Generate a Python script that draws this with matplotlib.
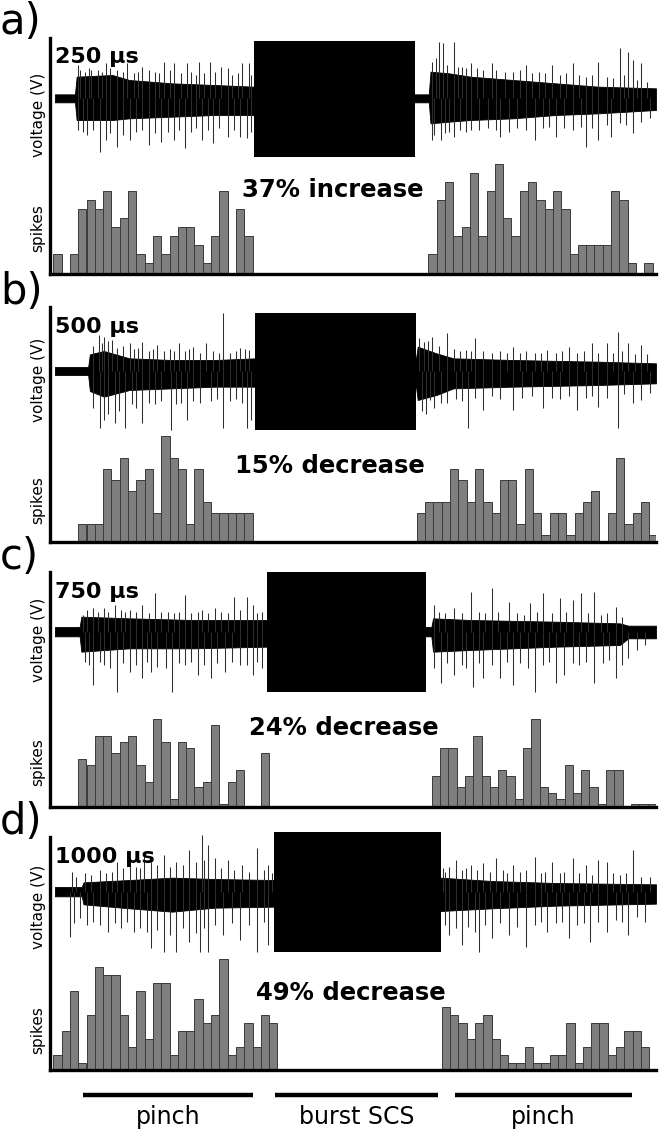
import numpy as np
import matplotlib
matplotlib.use('Agg')
import matplotlib.pyplot as plt

# ---------------- DATA ----------------
panel_names = ['a)', 'b)', 'c)', 'd)']
pulse_widths = ['250 µs', '500 µs', '750 µs', '1000 µs']
changes = ['37% increase', '15% decrease', '24% decrease', '49% decrease']
phase_labels = ['pinch', 'burst SCS', 'pinch']
phase_start = [194, 644, 1065]     # time (trace units)
phase_end = [592, 1025, 1479]

# spike histograms (counts per bin); first bin index of each block
a_left_start, a_right_start = 0, 45.2
a_left = [3, 0, 3, 8, 9, 8, 10, 6, 7, 10, 3, 2, 5, 3, 5, 6, 6, 4, 2, 5, 10, 0, 8, 5]
a_right = [3, 9, 11, 5, 6, 12, 5, 10, 13, 7, 5, 10, 11, 9, 8, 10, 8, 3, 4, 4, 4, 4, 10, 9, 2, 0, 2]
b_left_start, b_right_start = 3, 43.8
b_left = [2, 2, 2, 7, 6, 8, 5, 6, 7, 3, 10, 8, 7, 2, 7, 4, 3, 3, 3, 3, 3]
b_right = [3, 4, 4, 4, 7, 6, 4, 7, 4, 3, 6, 6, 2, 7, 3, 1, 3, 3, 1, 3, 4, 5, 0, 3, 8, 2, 3, 4, 1]
c_left_start, c_right_start = 3, 45.6
c_left = [9, 8, 13, 13, 10, 12, 13, 8, 5, 16, 12, 2, 12, 11, 4, 5, 15, 1, 5, 7, 0, 0, 10]
c_right = [6, 11, 11, 4, 6, 13, 6, 4, 7, 6, 2, 11, 16, 4, 3, 2, 8, 3, 7, 4, 1, 7, 7, 0, 1, 1, 1]
d_left_start, d_right_start = 0, 46.8
d_left = [2, 5, 10, 1, 7, 13, 12, 12, 7, 3, 10, 4, 11, 11, 2, 5, 5, 9, 6, 7, 14, 2, 3, 6, 3, 7, 6]
d_right = [8, 7, 6, 4, 6, 7, 4, 2, 1, 1, 3, 1, 1, 2, 2, 6, 1, 3, 6, 6, 2, 3, 5, 5, 3]

# voltage traces: noise envelope (time, upper, lower), stimulation block, spikes
a_env_t = [125, 172, 176, 260, 300, 400, 500, 593, 970, 1002, 1006, 1050, 1100, 1200, 1300, 1400, 1535]
a_env_hi = [12, 12, 65, 70, 55, 45, 40, 35, 12, 12, 80, 75, 65, 55, 45, 35, 30]
a_env_lo = [-12, -12, -65, -65, -60, -55, -50, -50, -12, -12, -75, -70, -65, -60, -50, -45, -35]
a_blk_t = [593, 970]; a_blk_hi = 172; a_blk_lo = -175
a_up_t = [178, 210, 245, 295, 330, 380, 405, 435, 462, 488, 515, 530, 565, 580,
          1025, 1035, 1060, 1080, 1100, 1150, 1230, 1290, 1340, 1400, 1450, 1470, 1480, 1500,
          185, 195, 205, 225, 235, 255, 270, 285, 310, 320, 345, 360, 370, 395, 420, 445, 455,
          475, 500, 540, 555, 585,
          1010, 1020, 1045, 1070, 1090, 1115, 1130, 1160, 1180, 1200, 1215, 1245, 1260, 1275,
          1310, 1325, 1355, 1370, 1385, 1420, 1435, 1460, 1490, 1515]
a_up_v = [100, 85, 105, 105, 95, 110, 105, 105, 110, 110, 95, 90, 105, 105,
          170, 165, 170, 95, 105, 105, 100, 100, 105, 110, 150, 140, 115, 105,
          85, 80, 90, 85, 80, 90, 85, 80, 75, 80, 85, 80, 75, 85, 75, 80, 70,
          75, 80, 70, 75, 70,
          110, 120, 100, 95, 90, 90, 85, 85, 80, 80, 85, 75, 80, 75,
          70, 75, 70, 65, 70, 65, 60, 70, 55, 50]
a_dn_t = [180, 230, 245, 270, 300, 345, 375, 405, 430, 470, 495, 530, 560, 575,
          1010, 1030, 1060, 1100, 1170, 1250, 1300, 1370, 1400, 1430, 1480,
          190, 200, 215, 255, 285, 315, 330, 360, 390, 415, 445, 455, 485, 510, 545, 585,
          1015, 1040, 1050, 1075, 1090, 1120, 1140, 1160, 1190, 1210, 1230, 1270, 1285, 1320,
          1340, 1360, 1385, 1420, 1450, 1465, 1500, 1520]
a_dn_v = [-95, -160, -125, -145, -125, -140, -130, -125, -150, -125, -135, -115, -115, -120,
          -125, -125, -115, -95, -115, -125, -115, -145, -125, -115, -105,
          -100, -110, -95, -105, -110, -100, -95, -105, -100, -95, -100, -90, -95, -90, -95, -100,
          -110, -105, -100, -95, -100, -95, -90, -95, -100, -90, -95, -90, -85, -90,
          -95, -85, -90, -80, -75, -80, -70, -60]

b_env_t = [125, 203, 207, 240, 300, 400, 500, 595, 972, 976, 1020, 1060, 1200, 1400, 1535]
b_env_hi = [12, 12, 50, 60, 38, 33, 33, 38, 38, 73, 53, 38, 33, 28, 23]
b_env_lo = [-12, -12, -60, -77, -57, -52, -47, -47, -47, -87, -72, -52, -47, -42, -37]
b_blk_t = [595, 972]; b_blk_hi = 173; b_blk_lo = -177
b_up_t = [228, 240, 260, 300, 330, 365, 415, 450, 480, 520, 560, 580,
          990, 1010, 1045, 1090, 1110, 1200, 1280, 1330, 1385, 1420, 1445, 1470, 1500,
          215, 235, 250, 270, 285, 310, 320, 345, 355, 380, 395, 405, 430, 440, 465, 495,
          510, 535, 550, 570,
          980, 1000, 1025, 1060, 1075, 1100, 1130, 1150, 1170, 1185, 1215, 1230, 1250, 1265,
          1300, 1315, 1350, 1365, 1400, 1435, 1455, 1485, 1515]
b_up_v = [108, 103, 93, 83, 88, 78, 83, 73, 83, 173, 68, 63,
          88, 103, 113, 63, 98, 73, 63, 73, 83, 83, 118, 83, 78,
          75, 85, 90, 70, 75, 65, 70, 60, 65, 60, 65, 60, 60, 65, 55, 60,
          55, 55, 60, 65,
          100, 90, 75, 65, 60, 60, 60, 55, 60, 55, 55, 60, 55, 55,
          55, 60, 55, 60, 55, 55, 60, 50, 50]
b_dn_t = [230, 240, 265, 290, 330, 398, 435, 520, 575, 585,
          1005, 1030, 1095, 1130, 1200, 1270, 1350, 1400, 1445, 1480, 1500,
          215, 250, 275, 305, 315, 345, 360, 375, 410, 420, 450, 465, 490, 505, 535, 550, 565,
          985, 995, 1015, 1045, 1065, 1080, 1110, 1150, 1170, 1220, 1245, 1290, 1310, 1330,
          1370, 1385, 1420, 1460, 1520]
b_dn_v = [-172, -147, -157, -172, -157, -177, -147, -172, -172, -147,
          -87, -97, -172, -117, -117, -112, -117, -107, -172, -97, -87,
          -110, -130, -120, -100, -110, -95, -100, -90, -100, -95, -90, -95, -90, -85, -90, -85, -95,
          -120, -130, -110, -95, -85, -90, -80, -75, -85, -80, -75, -80, -85, -75,
          -80, -75, -80, -70, -65]

c_env_t = [125, 183, 187, 300, 450, 622, 995, 1008, 1012, 1100, 1300, 1450, 1470, 1535]
c_env_hi = [14, 14, 45, 40, 35, 35, 14, 14, 40, 35, 30, 25, 18, 18]
c_env_lo = [-14, -14, -60, -50, -50, -45, -14, -14, -60, -55, -45, -40, -20, -20]
c_blk_t = [622, 995]; c_blk_hi = 180; c_blk_lo = -182
c_up_t = [190, 215, 265, 300, 330, 360, 390, 430, 470, 500, 545, 575, 590,
          1015, 1060, 1100, 1150, 1190, 1240, 1270, 1310, 1340, 1360, 1390, 1440,
          200, 225, 240, 250, 280, 290, 315, 345, 375, 405, 415, 445, 460, 485, 515, 530,
          560, 600, 610,
          1025, 1040, 1080, 1120, 1135, 1165, 1210, 1225, 1255, 1290, 1325, 1375, 1405, 1420, 1455]
c_up_v = [50, 70, 80, 65, 80, 115, 60, 110, 65, 70, 105, 105, 80,
          80, 70, 120, 130, 90, 85, 115, 100, 95, 115, 120, 75,
          65, 60, 70, 60, 65, 60, 60, 55, 60, 55, 60, 55, 60, 55, 60, 55,
          65, 55, 60,
          60, 55, 55, 60, 55, 60, 55, 50, 60, 55, 60, 55, 50, 55, 45]
c_dn_t = [215, 240, 270, 300, 330, 350, 400, 430, 460, 490, 525, 560, 590, 610,
          1030, 1060, 1105, 1130, 1170, 1200, 1250, 1300, 1320, 1390, 1440, 1470, 1510,
          195, 205, 230, 255, 285, 315, 340, 365, 385, 415, 445, 475, 505, 540, 575, 600,
          1015, 1045, 1080, 1090, 1120, 1150, 1185, 1215, 1235, 1270, 1285, 1340, 1355, 1370,
          1410, 1425, 1455, 1490]
c_dn_v = [-160, -100, -180, -120, -140, -120, -180, -100, -130, -140, -120, -100, -130, -110,
          -155, -130, -165, -140, -140, -160, -180, -155, -130, -155, -140, -80, -40,
          -90, -100, -90, -110, -95, -100, -90, -105, -110, -95, -90, -100, -95, -90, -100, -90,
          -110, -95, -100, -110, -95, -100, -90, -95, -110, -100, -90, -95, -100, -90,
          -95, -85, -100, -55]

d_env_t = [125, 188, 192, 300, 400, 500, 640, 1030, 1150, 1300, 1535]
d_env_hi = [14, 14, 28, 35, 42, 38, 35, 42, 32, 26, 22]
d_env_lo = [-14, -14, -38, -50, -60, -48, -45, -58, -50, -42, -36]
d_blk_t = [640, 1030]; d_blk_hi = 180; d_blk_lo = -182
d_up_t = [165, 195, 230, 270, 300, 335, 350, 380, 410, 440, 470, 485, 500, 530, 565, 600, 625,
          1040, 1065, 1100, 1130, 1160, 1200, 1250, 1290, 1340, 1370, 1400, 1420, 1480,
          175, 210, 245, 260, 285, 315, 325, 365, 395, 425, 455, 475, 515, 545, 580, 615, 635,
          1035, 1050, 1080, 1090, 1115, 1145, 1175, 1185, 1215, 1230, 1265, 1275, 1310, 1320,
          1355, 1385, 1435, 1450, 1465, 1500, 1520]
d_up_v = [60, 55, 65, 90, 105, 115, 90, 110, 90, 125, 170, 140, 100, 95, 80, 130, 80,
          60, 95, 80, 85, 100, 80, 105, 90, 100, 80, 95, 90, 125,
          45, 50, 55, 60, 70, 75, 70, 80, 75, 80, 90, 95, 70, 65, 60, 65, 55,
          70, 75, 65, 70, 65, 60, 65, 55, 60, 65, 55, 60, 55, 60,
          55, 50, 55, 50, 55, 45, 45]
d_dn_t = [160, 200, 250, 280, 310, 350, 380, 410, 440, 465, 485, 520, 560, 600, 625,
          1050, 1080, 1120, 1150, 1190, 1230, 1280, 1330, 1380, 1420, 1470, 1510,
          170, 185, 215, 230, 265, 295, 325, 340, 365, 395, 425, 455, 475, 500, 540, 580, 615,
          1040, 1065, 1095, 1110, 1135, 1170, 1210, 1250, 1265, 1300, 1315, 1350, 1365, 1400,
          1440, 1455, 1490]
d_dn_v = [-135, -100, -120, -110, -120, -170, -180, -180, -150, -180, -180, -130, -145, -180, -160,
          -130, -160, -180, -140, -130, -165, -120, -140, -150, -120, -130, -90,
          -95, -80, -90, -100, -95, -90, -110, -120, -115, -130, -110, -125, -110, -100, -95, -100, -90,
          -100, -110, -105, -120, -100, -95, -105, -100, -90, -95, -90, -100, -95, -90,
          -85, -90, -75]

# ---------------- LAYOUT / STYLE ----------------
W, H = 670, 1130
fig = plt.figure(figsize=(W / 100, H / 100), dpi=100)
plt.rcParams['font.family'] = ['DejaVu Sans']


def ax_px(x0, y0, x1, y1, **kw):
    return fig.add_axes([x0 / W, 1 - y1 / H, (x1 - x0) / W, (y1 - y0) / H], **kw)


def bare(ax):
    ax.set_facecolor('none')
    for s in ax.spines.values():
        s.set_visible(False)
    ax.set_xticks([])
    ax.set_yticks([])


X0, X1 = 50, 656
BIN_PX = 8.3
T0, T1 = 117, 1535   # trace time range spanned by the axes
panels = [
    dict(top=38, spine=273.7, trace_y=30, trace_base=205, hist_top=150, unit=9.0, lvl0=0.81,
         lab_y=22, pw_y=57, ch_xy=(333, 190), volt_y=115, spk_y=228,
         hist=(a_left_start, a_left, a_right_start, a_right),
         tr=(a_env_t, a_env_hi, a_env_lo, a_blk_t, a_blk_hi, a_blk_lo, a_up_t, a_up_v, a_dn_t, a_dn_v)),
    dict(top=307, spine=542.0, trace_y=300, trace_base=213, hist_top=425, unit=11.0, lvl0=0.39,
         lab_y=292, pw_y=327, ch_xy=(330, 466), volt_y=380, spk_y=500,
         hist=(b_left_start, b_left, b_right_start, b_right),
         tr=(b_env_t, b_env_hi, b_env_lo, b_blk_t, b_blk_hi, b_blk_lo, b_up_t, b_up_v, b_dn_t, b_dn_v)),
    dict(top=572, spine=806.7, trace_y=565, trace_base=200, hist_top=700, unit=17 / 3, lvl0=0.59,
         lab_y=557, pw_y=592, ch_xy=(344, 728), volt_y=640, spk_y=762,
         hist=(c_left_start, c_left, c_right_start, c_right),
         tr=(c_env_t, c_env_hi, c_env_lo, c_blk_t, c_blk_hi, c_blk_lo, c_up_t, c_up_v, c_dn_t, c_dn_v)),
    dict(top=837, spine=1070.3, trace_y=825, trace_base=200, hist_top=950, unit=8.0, lvl0=0.125,
         lab_y=822, pw_y=857, ch_xy=(351, 993), volt_y=907, spk_y=1030,
         hist=(d_left_start, d_left, d_right_start, d_right),
         tr=(d_env_t, d_env_hi, d_env_lo, d_blk_t, d_blk_hi, d_blk_lo, d_up_t, d_up_v, d_dn_t, d_dn_v)),
]

for i, p in enumerate(panels):
    # --- voltage trace ---
    tax = ax_px(X0 + 1.5, p['trace_y'], X1, p['trace_y'] + 140)
    bare(tax)
    base = p['trace_base']
    tax.set_xlim(T0, T1)
    tax.set_ylim(base - 420, base)
    env_t, env_hi, env_lo, blk_t, blk_hi, blk_lo, up_t, up_v, dn_t, dn_v = p['tr']
    tax.vlines(up_t, 0, up_v, color='#2e2e2e', lw=0.75)
    tax.vlines(dn_t, 0, dn_v, color='#2e2e2e', lw=0.75)
    tax.fill_between(env_t, env_lo, env_hi, color='black', lw=0.6)
    tax.fill_between(blk_t, [blk_lo] * 2, [blk_hi] * 2, color='black', lw=0)

    # --- spike histogram ---
    hax = ax_px(X0, p['hist_top'], X1, p['spine'])
    bare(hax)
    hx0 = -(53.3 - X0) / BIN_PX
    hax.set_xlim(hx0, hx0 + (X1 - X0) / BIN_PX)
    hax.set_ylim(p['lvl0'], p['lvl0'] + (p['spine'] - p['hist_top']) / p['unit'])
    ls, lc, rs, rc = p['hist']
    for s0, cnt in ((ls, lc), (rs, rc)):
        hax.bar(s0 + np.arange(len(cnt)), cnt, width=1.0, align='edge',
                color='#7f7f7f', edgecolor='#3a3a3a', linewidth=0.7)

    # --- frame (axes lines) ---
    fax = ax_px(X0, p['top'], X1, p['spine'])
    fax.set_facecolor('none')
    for s in ('top', 'right'):
        fax.spines[s].set_visible(False)
    for s in ('left', 'bottom'):
        fax.spines[s].set_linewidth(2.4)
        fax.spines[s].set_color('black')
    fax.set_xticks([])
    fax.set_yticks([])

    # --- texts ---
    fig.text(0 / W, 1 - p['lab_y'] / H, panel_names[i], fontsize=30, ha='left', va='center')
    fig.text(55 / W, 1 - p['pw_y'] / H, pulse_widths[i], fontsize=16, fontweight='bold',
             ha='left', va='center')
    fig.text(p['ch_xy'][0] / W, 1 - p['ch_xy'][1] / H, changes[i], fontsize=17.5,
             fontweight='bold', ha='center', va='center')
    fig.text(38 / W, 1 - p['volt_y'] / H, 'voltage (V)', fontsize=11, rotation=90,
             ha='center', va='center')
    fig.text(38 / W, 1 - p['spk_y'] / H, 'spikes', fontsize=11, rotation=90,
             ha='center', va='center')

# --- phase bars at bottom (same time axis as the traces) ---
bax = ax_px(X0, 1085, X1, 1130)
bare(bax)
bax.set_xlim(T0, T1)
bax.set_ylim(1130, 1085)
bax.hlines([1095] * 3, phase_start, phase_end, color='black', lw=3.2)
for s0, e0, lab in zip(phase_start, phase_end, phase_labels):
    bax.text((s0 + e0) / 2, 1117, lab, fontsize=17, ha='center', va='center')

fig.savefig('out.png', dpi=100)
